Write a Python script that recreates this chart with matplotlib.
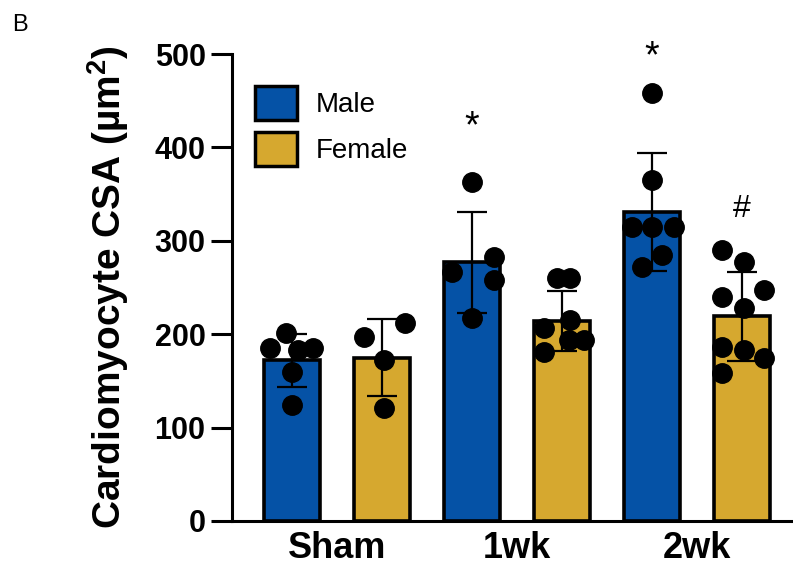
import numpy as np
import matplotlib
matplotlib.use("Agg")
import matplotlib.pyplot as plt
from matplotlib.patches import Patch

plt.rcParams['font.family'] = ['Liberation Sans', 'DejaVu Sans']
plt.rcParams['mathtext.fontset'] = 'custom'
plt.rcParams['mathtext.rm'] = 'Liberation Sans'
plt.rcParams['mathtext.bf'] = 'Liberation Sans:bold'

groups = ['Sham', '1wk', '2wk']
sexes = ['Male', 'Female']
colors = ['#0552a6', '#d6a82f']

# bar order: Sham M, Sham F, 1wk M, 1wk F, 2wk M, 2wk F
means = [172, 175, 277, 214, 331, 219]
sds = [28, 41, 54, 32, 63, 48]

# individual animals: (x jitter, value)
sham_m = [(-0.07, 201), (-0.24, 185), (0.07, 183), (0.23, 185), (0.0, 160), (0.0, 124)]
sham_f = [(-0.2, 197), (0.26, 212), (0.02, 172), (0.02, 121)]
wk1_m = [(0.0, 363), (0.24, 283), (-0.22, 267), (0.24, 258), (0.0, 217)]
wk1_f = [(-0.06, 260), (0.09, 260), (0.09, 215), (-0.2, 207), (0.08, 194), (0.24, 194), (-0.2, 181)]
wk2_m = [(0.0, 458), (0.0, 365), (-0.22, 315), (0.0, 315), (0.24, 315), (0.11, 285), (-0.11, 272)]
wk2_f = [(-0.22, 290), (0.02, 277), (-0.22, 240), (0.24, 247), (0.02, 228),
         (-0.22, 186), (0.02, 183), (0.24, 174), (-0.22, 158)]
points = [sham_m, sham_f, wk1_m, wk1_f, wk2_m, wk2_f]

# significance marks: (bar index, y, symbol)
marks = [(2, 422, '*'), (4, 497, '*'), (5, 334, '#')]

fig = plt.figure(figsize=(7.93, 5.69), dpi=100)
ax = fig.add_axes([232 / 793, 1 - 521 / 569, 1 - 232 / 793, (521 - 54) / 569])

x = np.arange(len(means))
bar_cols = [colors[i % 2] for i in range(len(means))]
ax.bar(x, means, width=0.63, color=bar_cols, edgecolor='black', linewidth=2.6, zorder=2)
ax.errorbar(x, means, yerr=sds, fmt='none', ecolor='black', elinewidth=1.6,
            capsize=11, capthick=1.6, zorder=3)
for i, pts in enumerate(points):
    dx = np.array([p[0] for p in pts])
    vals = np.array([p[1] for p in pts])
    ax.plot(x[i] + dx, vals, 'o', color='black', markersize=14, zorder=4, clip_on=False)

for i, yv, s in marks:
    ax.text(x[i], yv, s, ha='center', va='center',
            fontsize=27 if s == '*' else 23, clip_on=False)

ax.set_xlim(-0.667, 5.567)
ax.set_ylim(0, 500)
ax.set_yticks([0, 100, 200, 300, 400, 500])
ax.set_xticks([0.5, 2.5, 4.5])
ax.set_xticklabels(groups, fontsize=26, fontweight='bold')
ax.tick_params(axis='x', length=0, pad=7)
ax.tick_params(axis='y', length=15, width=2.2, pad=4, labelsize=22)
for lab in ax.get_yticklabels():
    lab.set_fontweight('bold')
ax.set_ylabel('Cardiomyocyte CSA (µm$^{\\mathbf{2}}$)', fontsize=28,
              fontweight='bold', labelpad=17)

for side in ['top', 'right']:
    ax.spines[side].set_visible(False)
for side in ['left', 'bottom']:
    ax.spines[side].set_linewidth(2.2)

handles = [Patch(facecolor=colors[i], edgecolor='black', linewidth=2.5) for i in range(2)]
ax.legend(handles, sexes, loc='upper left', bbox_to_anchor=(255 / 793, 1 - 86 / 569),
          bbox_transform=fig.transFigure, frameon=False, fontsize=20,
          handlelength=1.5, handleheight=1.5, handletextpad=0.7,
          labelspacing=0.45, borderpad=0, borderaxespad=0)

fig.text(12 / 793, 1 - 31 / 569, 'B', fontsize=17)

fig.savefig('out.png', dpi=100)
